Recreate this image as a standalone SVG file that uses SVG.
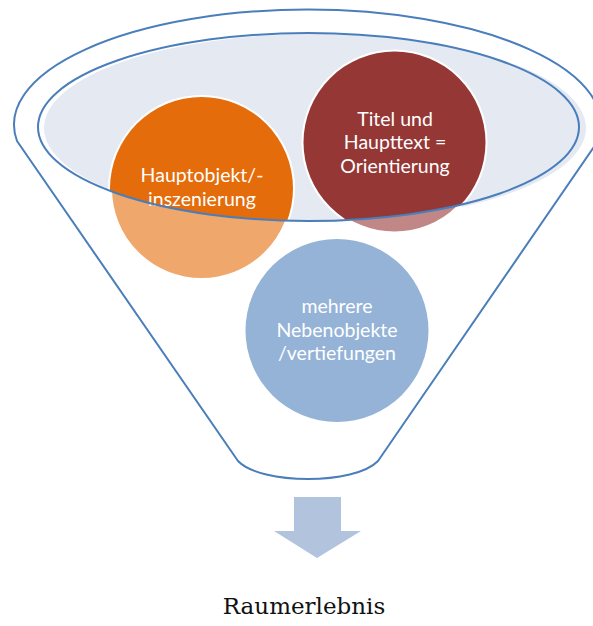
<svg xmlns="http://www.w3.org/2000/svg" width="593" height="626" viewBox="0 0 593 626">
  <defs>
    <clipPath id="opening">
      <ellipse cx="308.5" cy="127" rx="270.5" ry="94"/>
    </clipPath>
    <style>
      .outline { fill: none; stroke: #4A7EBB; stroke-width: 2; }
      .label { font-family: "Lato", "Open Sans", "Liberation Sans", sans-serif; font-size: 19.5px; fill: #FFFFFF; text-anchor: middle; }
      .ring { stroke: #FFFFFF; stroke-width: 4; }
    </style>
  </defs>
  <rect width="593" height="626" fill="#FFFFFF"/>

  <!-- funnel opening fill -->
  <g id="funnel-opening">
    <ellipse cx="315" cy="128" rx="271" ry="94" fill="#E4E9F2"/>
  </g>

  <g id="node-hauptobjekt">
    <circle cx="201.5" cy="188.5" r="91.5" fill="#EFA76C" class="ring"/>
    <circle cx="201.5" cy="188.5" r="91.5" fill="#E46C0A" clip-path="url(#opening)"/>
    <text class="label" x="202" y="182">Hauptobjekt/-</text>
    <text class="label" x="202" y="206">inszenierung</text>
  </g>

  <g id="node-titel">
    <circle cx="394.5" cy="142.5" r="91" fill="#C08786" class="ring"/>
    <circle cx="394.5" cy="142.5" r="91" fill="#953735" clip-path="url(#opening)"/>
    <text class="label" x="395" y="126">Titel und</text>
    <text class="label" x="395" y="149">Haupttext =</text>
    <text class="label" x="395" y="173">Orientierung</text>
  </g>

  <g id="node-nebenobjekte">
    <circle cx="337" cy="330.5" r="91.5" fill="#95B3D7"/>
    <text class="label" x="337" y="313">mehrere</text>
    <text class="label" x="337" y="337">Nebenobjekte</text>
    <text class="label" x="337" y="360">/vertiefungen</text>
  </g>

  <g id="funnel-outline">
    <ellipse class="outline" cx="308.5" cy="127" rx="270.5" ry="94"/>
    <path class="outline" d="M 17,141 A 293.5 115 0 1 1 598,141 L 378,461 C 355,485 261,485 238,461 Z" stroke-linejoin="round"/>
  </g>

  <g id="connectors">
    <path d="M 294,497 L 341,497 L 341,531 L 361,531 L 317,558 L 274,531 L 294,531 Z" fill="#B2C3DE"/>
  </g>

  <g id="node-raumerlebnis">
    <text x="304" y="614" font-family="DejaVu Serif, Liberation Serif, serif" font-size="23" fill="#111111" text-anchor="middle">Raumerlebnis</text>
  </g>
</svg>
